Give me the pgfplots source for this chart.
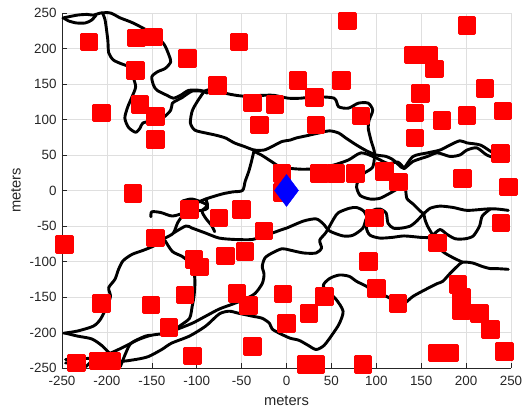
\documentclass[border=0pt]{standalone}
\usepackage{fontspec}
\setmainfont{Liberation Sans}
\usepackage{pgfplots}
\pgfplotsset{compat=1.18}
\definecolor{gridc}{rgb}{0.875,0.875,0.875}
\definecolor{axc}{rgb}{0.15,0.15,0.15}
\pgfdeclareplotmark{rsquare}{%
  \pgfsetcornersarced{\pgfpoint{0.35\pgfplotmarksize}{0.35\pgfplotmarksize}}%
  \pgfpathmoveto{\pgfpoint{\pgfplotmarksize}{0pt}}%
  \pgfpathlineto{\pgfpoint{\pgfplotmarksize}{\pgfplotmarksize}}%
  \pgfpathlineto{\pgfpoint{-\pgfplotmarksize}{\pgfplotmarksize}}%
  \pgfpathlineto{\pgfpoint{-\pgfplotmarksize}{-\pgfplotmarksize}}%
  \pgfpathlineto{\pgfpoint{\pgfplotmarksize}{-\pgfplotmarksize}}%
  \pgfpathclose
  \pgfusepathqfillstroke
}
\begin{document}
\begin{tikzpicture}
\begin{axis}[
  scale only axis, width=449bp, height=355bp,
  xmin=-250, xmax=250, ymin=-250, ymax=250,
  xtick={-250,-200,...,250}, ytick={-250,-200,...,250},
  grid=major, major grid style={draw=gridc, line width=0.6bp},
  axis x line*=bottom, axis y line*=left,
  x axis line style={-}, y axis line style={-},
  axis line style={draw=axc, line width=0.8bp},
  tick align=inside, major tick length=5bp,
  tick style={draw=axc, line width=0.6bp},
  /pgf/number format/assume math mode=true,
  ticklabel style={font=\fontsize{13.4bp}{15bp}\selectfont, text=axc},
  xticklabel style={yshift=-5bp},
  yticklabel style={xshift=-2bp},
  label style={font=\fontsize{14.7bp}{17bp}\selectfont, text=axc},
  xlabel={meters}, ylabel={meters},
  xlabel style={yshift=-3bp},
  ylabel style={yshift=2bp},
  clip=false,
  road/.style={black, line width=2.9bp, line join=round, line cap=round, smooth, tension=0.45},
]
% red squares
\addplot[only marks, mark=rsquare, mark size=7.8bp, mark options={fill=red, draw=red, line width=3bp, line join=round}] coordinates {
(-220,209) (-167,215) (-148,216) (-110,186) (-168,169) (-53,209) (-206,109) (-163,121) (-146,104) (-146,72) (-171,-4) (-77,148)
(-38,123) (-13,121) (-30,92) (68,239) (201,232) (13,155) (61,155) (31,131) (83,105) (33,92)
(141,191) (158,191) (165,171) (221,144) (149,137) (143,109) (173,99) (201,106) (241,112) (143,74) (238,52) (196,17) (247,5)
(-5,24) (-5,-3) (37,24) (55,24) (77,24) (109,27) (125,12)
(-108,-27) (-75,-39) (-50,-27) (-25,-57) (-247,-76) (-146,-67) (-103,-97) (-97,-108) (-68,-92) (-46,-86) (-206,-159) (-151,-161) (-113,-147) (-131,-193) (-55,-145) (-42,-162) (-38,-220) (-105,-233) (-234,-243) (-210,-240) (-195,-240)
(98,-39) (91,-100) (100,-138) (124,-159) (42,-149) (25,-173) (-4,-146) (0,-187) (22,-245) (32,-245) (85,-245) (239,-46) (168,-74) (191,-132) (195,-151) (195,-170) (215,-173) (227,-196) (243,-227) (168,-229) (182,-229)
};
% roads
\addplot[road] coordinates {(-249,243) (-233,247) (-222,248) (-215,247) (-207,250) (-196,250) (-185,243) (-171,236) (-152,223) (-137,207) (-131,191) (-129,181) (-135,172) (-144,167) (-150,160) (-148,148) (-144,141) (-133,134) (-126,130) (-118,134) (-109,141) (-96,141) (-88,137)};
\addplot[road] coordinates {(-248,243) (-243,239) (-234,236) (-224,236) (-217,240) (-212,247)};
\addplot[road] coordinates {(-205,250) (-202,240) (-199,212) (-198,194) (-193,184) (-185,179) (-176,174) (-171,160) (-168,146) (-172,132) (-177,117) (-180,102) (-176,89) (-168,82) (-163,88) (-160,95) (-148,99) (-137,103) (-129,113) (-127,123) (-122,127) (-116,131)};
\addplot[road] coordinates {(-116,131) (-105,140) (-92,140) (-80,144) (-68,137) (-49,133) (-27,134) (-14,134) (2,130) (16,130) (31,132) (53,130) (58,118) (69,116) (80,123) (91,123) (96,113) (92,99) (91,88) (94,71) (98,53) (96,33) (86,24) (80,14) (78,5) (82,-7) (93,-12) (104,-11) (115,-4) (131,6) (134,-11) (141,-19) (149,-29) (153,-32) (160,-25) (171,-22) (186,-24) (201,-28) (223,-26) (234,-26) (247,-28)};
\addplot[road] coordinates {(-92,139) (-99,126) (-105,112) (-107,95) (-102,85) (-90,81) (-79,78) (-68,74) (-58,67) (-47,62) (-36,57) (-25,57) (-16,62) (-5,69) (4,71) (11,74) (22,77) (36,81) (48,84) (58,81) (66,74) (78,64) (89,56) (100,50) (111,48) (119,43) (125,36) (131,31) (141,41) (157,48) (168,53) (182,48) (193,50) (201,57) (212,60) (223,50) (234,46) (246,50)};
\addplot[road] coordinates {(131,31) (141,48) (157,53) (171,57) (182,64) (193,70) (201,67) (216,64) (230,53) (238,50) (247,51)};
\addplot[road] coordinates {(-36,55) (-28,50) (-17,41) (-6,33) (16,30) (35,31) (53,36) (69,43) (83,53) (98,47) (113,38) (124,40) (131,31)};
\addplot[road] coordinates {(-248,-201) (-233,-198) (-215,-191) (-207,-181) (-200,-163) (-196,-149) (-198,-137) (-191,-125) (-187,-111) (-182,-99) (-172,-90) (-159,-84) (-146,-77) (-135,-67) (-126,-60) (-121,-45) (-113,-31) (-102,-19) (-90,-12) (-72,-5) (-60,-2) (-49,0) (-46,13) (-42,27) (-39,41) (-36,57)};
\addplot[road] coordinates {(-113,-31) (-127,-36) (-140,-31) (-150,-30) (-151,-37)};
\addplot[road] coordinates {(-90,-12) (-88,-21) (-94,-29) (-90,-39) (-83,-50) (-80,-58)};
\addplot[road] coordinates {(-116,-15) (-105,-12) (-90,-19) (-88,-25) (-94,-28) (-107,-28) (-116,-24)};
\addplot[road] coordinates {(-126,-60) (-112,-50) (-105,-53) (-90,-60) (-75,-67) (-57,-69) (-38,-69) (-27,-64) (-16,-60) (-5,-55) (0,-53) (19,-43) (33,-40) (41,-47) (48,-57) (63,-64) (74,-63) (85,-53) (89,-39) (96,-28) (104,-26) (111,-32) (113,-46) (119,-53) (128,-53) (138,-50) (145,-43) (153,-32)};
\addplot[road] coordinates {(-246,-238) (-217,-236) (-198,-230) (-179,-219) (-165,-210) (-151,-204) (-135,-201) (-123,-196) (-105,-187) (-90,-177) (-75,-167) (-60,-160) (-46,-153) (-35,-145) (-27,-131) (-25,-118) (-27,-107) (-24,-95) (-16,-88) (-5,-82) (4,-84) (19,-88) (33,-88) (39,-81) (37,-70) (44,-59) (53,-39) (58,-31) (70,-25) (78,-24) (86,-29) (91,-42) (89,-53) (93,-63) (104,-67) (118,-66) (131,-64) (149,-66) (160,-67) (168,-74) (174,-86) (186,-95) (196,-101)};
\addplot[road] coordinates {(153,-32) (154,-40) (157,-50) (162,-61) (168,-74)};
\addplot[road] coordinates {(227,-26) (218,-36) (215,-50) (208,-64) (199,-68) (188,-68) (179,-62) (171,-55) (163,-63)};
\addplot[road] coordinates {(-246,-243) (-232,-241) (-224,-248) (-217,-241) (-202,-238) (-187,-241) (-168,-238) (-154,-234) (-139,-224) (-128,-215) (-108,-205) (-90,-191) (-75,-174) (-64,-170) (-53,-173) (-38,-177) (-27,-180) (-19,-187) (-16,-195) (-8,-201) (4,-208) (14,-211) (24,-218) (33,-224) (42,-218) (52,-201) (59,-187) (63,-170) (55,-153) (41,-135) (48,-124) (59,-119) (70,-121) (78,-128) (89,-135) (100,-145) (111,-149) (122,-156) (131,-159) (141,-149) (157,-138) (168,-131) (174,-128) (182,-117) (190,-107) (196,-101) (207,-102) (218,-107) (227,-110) (234,-110) (247,-111)};
\addplot[road] coordinates {(-246,-201) (-233,-205) (-217,-209) (-206,-218) (-198,-228) (-190,-236) (-185,-247)};
\addplot[road] coordinates {(-185,-248) (-179,-229) (-173,-215) (-157,-205) (-151,-204)};
\addplot[road] coordinates {(-135,-71) (-127,-86) (-116,-93) (-108,-102) (-103,-116) (-102,-130) (-103,-149) (-105,-163) (-108,-180) (-119,-191) (-127,-201)};
% blue diamond
\addplot[only marks, mark=diamond*, mark size=16bp, mark options={fill=blue, draw=blue}] coordinates {(0,0)};
\end{axis}
\pgfresetboundingbox
\path ([shift={(-62bp,-44bp)}]current axis.south west) rectangle ([shift={(11bp,13bp)}]current axis.north east);
\end{tikzpicture}
\end{document}
